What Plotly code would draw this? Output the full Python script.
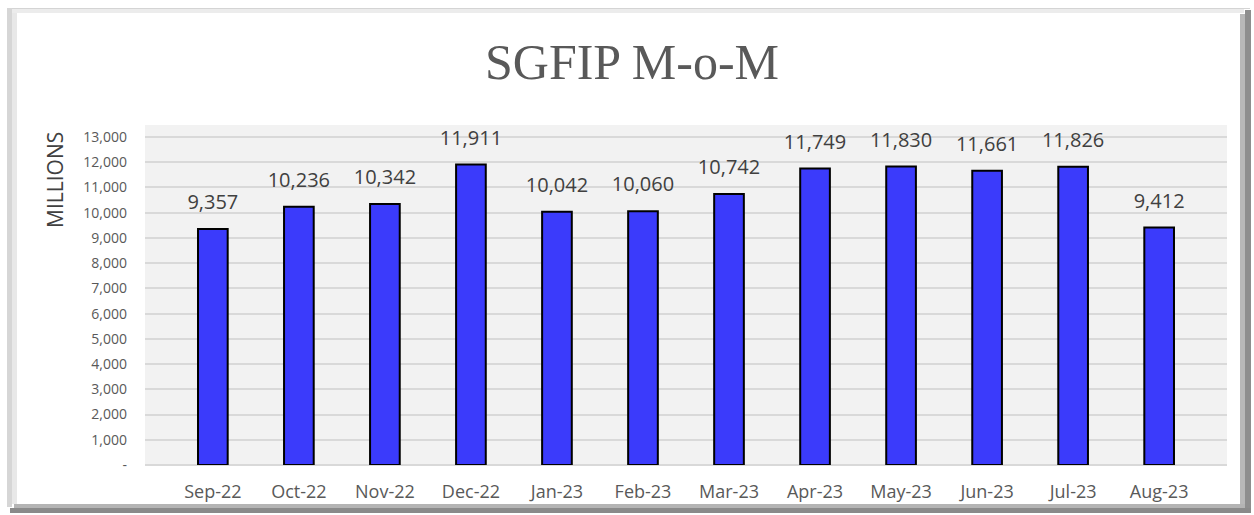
import plotly.graph_objects as go

months = ["Sep-22", "Oct-22", "Nov-22", "Dec-22", "Jan-23", "Feb-23",
          "Mar-23", "Apr-23", "May-23", "Jun-23", "Jul-23", "Aug-23"]
values = [9357, 10236, 10342, 11911, 10042, 10060,
          10742, 11749, 11830, 11661, 11826, 9412]
tick_vals = list(range(0, 13001, 1000))
tick_text = ["-"] + [f"{v:,}" for v in tick_vals[1:]]

W, H = 1254, 515
L, R, T, B = 145, 27, 125, 50
PW, PH = W - L - R, H - T - B


def px(x):
    return (x - L) / PW


def py(y):
    return (H - B - y) / PH


fig = go.Figure()
fig.add_trace(go.Bar(
    x=months, y=values, width=0.345,
    marker=dict(color="#3b3bfb", line=dict(color="#000000", width=2)),
    hoverinfo="x+y",
))
fig.add_trace(go.Scatter(
    x=months, y=values, mode="markers+text",
    text=[f"{v:,}" for v in values], textposition="top center",
    marker=dict(size=22, opacity=0),
    textfont=dict(family="Open Sans", size=20, color="#404040"),
    hoverinfo="skip",
))

shapes = []
# frame bevels
shapes.append(dict(type="rect", xref="paper", yref="paper",
                   x0=px(7), x1=px(1250), y0=py(8), y1=py(9),
                   fillcolor="#d4d4d4", line=dict(width=0), layer="below"))
shapes.append(dict(type="rect", xref="paper", yref="paper",
                   x0=px(7), x1=px(1244), y0=py(9), y1=py(13),
                   fillcolor="#ececec", line=dict(width=0), layer="below"))
shapes.append(dict(type="rect", xref="paper", yref="paper",
                   x0=px(7), x1=px(12), y0=py(8), y1=py(507),
                   fillcolor="#d6d6d6", line=dict(width=0), layer="below"))
shapes.append(dict(type="rect", xref="paper", yref="paper",
                   x0=px(12), x1=px(17), y0=py(13), y1=py(504),
                   fillcolor="#e8e8e8", line=dict(width=0), layer="below"))
shapes.append(dict(type="rect", xref="paper", yref="paper",
                   x0=px(1240), x1=px(1245), y0=py(14), y1=py(508),
                   fillcolor="#b8b8b8", line=dict(width=0), layer="below"))
shapes.append(dict(type="rect", xref="paper", yref="paper",
                   x0=px(1245), x1=px(1251), y0=py(10), y1=py(513),
                   fillcolor="#8e8e8e", line=dict(width=0), layer="below"))
shapes.append(dict(type="rect", xref="paper", yref="paper",
                   x0=px(14), x1=px(1245), y0=py(504), y1=py(508),
                   fillcolor="#b4b4b4", line=dict(width=0), layer="below"))
shapes.append(dict(type="rect", xref="paper", yref="paper",
                   x0=px(10), x1=px(1251), y0=py(508), y1=py(513),
                   fillcolor="#8a8a8a", line=dict(width=0), layer="below"))

fig.update_layout(
    width=W, height=H,
    margin=dict(l=L, r=R, t=T, b=B, pad=0),
    paper_bgcolor="#ffffff",
    plot_bgcolor="#f2f2f2",
    showlegend=False,
    bargap=0.655,
    shapes=shapes,
    annotations=[
        dict(text="SGFIP M-o-M", xref="paper", yref="paper",
             x=px(632), y=py(62), xanchor="center", yanchor="middle",
             showarrow=False,
             font=dict(family="Liberation Serif", size=50, color="#595959")),
        dict(text="MILLIONS", xref="paper", yref="paper",
             x=px(55), y=py(180), xanchor="center", yanchor="middle",
             textangle=-90, showarrow=False,
             font=dict(family="Open Sans", size=21, color="#404040")),
    ],
    xaxis=dict(
        tickfont=dict(family="Open Sans", size=18, color="#595959"),
        showgrid=False, showline=False, ticks="", ticklen=0,
        ticklabelstandoff=14,
        automargin=False,
    ),
    yaxis=dict(
        range=[0, 13476], tickvals=tick_vals, ticktext=tick_text,
        tickfont=dict(family="Open Sans", size=14, color="#595959"),
        gridcolor="#d9d9d9", gridwidth=1.5,
        zeroline=True, zerolinecolor="#d9d9d9", zerolinewidth=2,
        showline=False, ticks="", ticklabelstandoff=17,
        automargin=False,
    ),
)

fig.write_html(
    "out.html",
    config={"displayModeBar": False},
    post_script="document.body.style.margin='0';document.body.style.padding='0';",
)
